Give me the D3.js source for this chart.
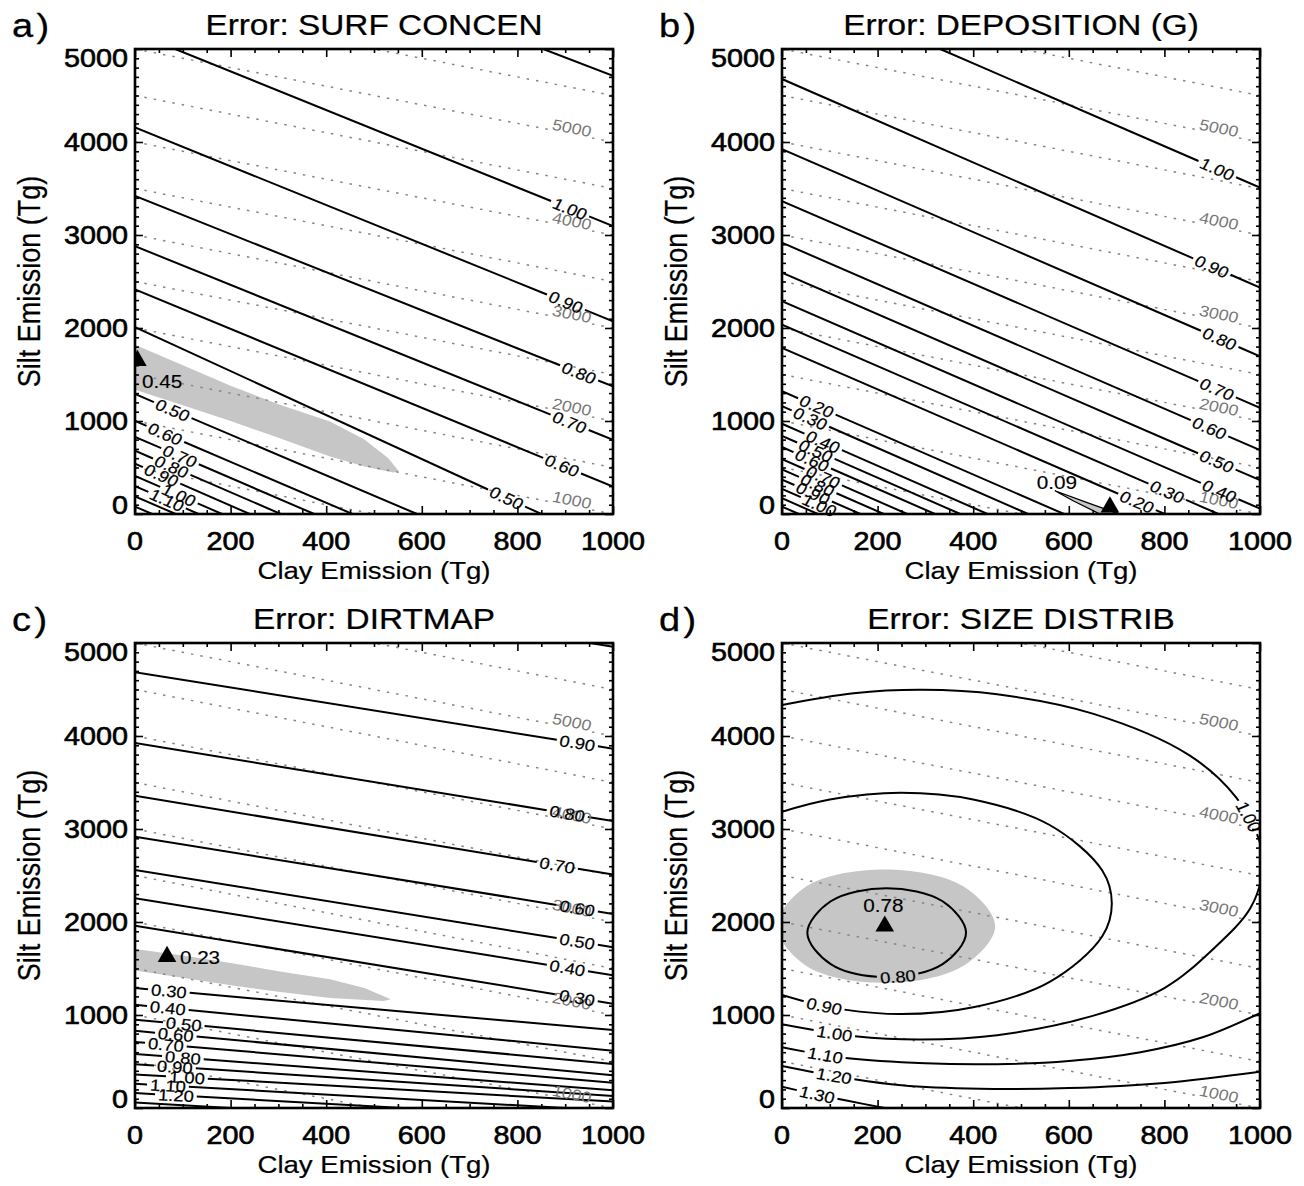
<!DOCTYPE html>
<html><head><meta charset="utf-8">
<script src="https://cdn.jsdelivr.net/npm/d3@7"></script>
<style>
body{margin:0;background:#fff}
svg{display:block}
text{font-family:"Liberation Sans",Arial,Helvetica,sans-serif}
</style>
</head><body>
<svg id="chart" width="1304" height="1186"></svg>
<script>
// ---------------- data ----------------
const clayTicks = [0, 200, 400, 600, 800, 1000];
const clayMinor = [50,100,150,250,300,350,450,500,550,650,700,750,850,900,950];
const siltTicks = [0, 1000, 2000, 3000, 4000, 5000];
const siltMinor = [100,200,300,400,500,600,700,800,900,1100,1200,1300,1400,1500,1600,1700,1800,1900,
  2100,2200,2300,2400,2500,2600,2700,2800,2900,3100,3200,3300,3400,3500,3600,3700,3800,3900,
  4100,4200,4300,4400,4500,4600,4700,4800,4900];
const totalLevels = [500,1000,1500,2000,2500,3000,3500,4000,4500,5000,5500,6000];
const totalLabelLevels = [1000,2000,3000,4000,5000];
const totalLabelClay = 914;
const titles = ["Error: SURF CONCEN", "Error: DEPOSITION (G)", "Error: DIRTMAP", "Error: SIZE DISTRIB"];
const letters = ["a)", "b)", "c)", "d)"];
const xTitle = "Clay Emission (Tg)";
const yTitle = "Silt Emission (Tg)";

// panel a : surface concentration
const contoursA = [
  {lev:"1.10", pts:[[854,5000],[1000,4712]]},
  {lev:"1.00", pts:[[84,5000],[1000,3096]], labs:[[910,3280]]},
  {lev:"0.90", pts:[[0,4156],[1000,2072]], labs:[[901,2280]]},
  {lev:"0.80", pts:[[0,3419],[1000,1372]], labs:[[927,1480]]},
  {lev:"0.70", pts:[[0,2880],[1000,797]], labs:[[910,985]]},
  {lev:"0.60", pts:[[0,2414],[1000,294]], labs:[[893,520]]},
  {lev:"0.50", pts:[[0,2010],[850,0]], labs:[[778,170]]},
  {lev:"0.50", pts:[[0,1290],[590,0]], labs:[[77,1100]]},
  {lev:"0.60", pts:[[0,1000],[455,0]], labs:[[63,855]]},
  {lev:"0.70", pts:[[0,830],[375,0]], labs:[[94,620]]},
  {lev:"0.80", pts:[[0,680],[305,0]], labs:[[77,510]]},
  {lev:"0.90", pts:[[0,540],[240,0]], labs:[[56,410]]},
  {lev:"1.00", pts:[[0,410],[182,0]], labs:[[94,230]]},
  {lev:"1.10", pts:[[0,300],[133,0]], labs:[[67,150]]},
  {lev:"1.20", pts:[[0,190],[85,0]]},
  {lev:"1.30", pts:[[0,80],[36,0]]}
];
const grayA = [[0,1821],[100,1600],[200,1380],[300,1180],[408,995],[480,800],[530,600],[552,460],
  [540,445],[480,510],[408,617],[300,820],[200,1000],[100,1170],[0,1336]];
const minA = {clay:5, silt:1650, text:"0.45", at:[57,1433]};

// panel b : deposition
const contoursB = [
  {lev:"1.00", pts:[[331,5000],[1000,3509]], labs:[[910,3700]]},
  {lev:"0.90", pts:[[0,4677],[1000,2435]], labs:[[900,2660]]},
  {lev:"0.80", pts:[[0,3922],[1000,1695]], labs:[[916,1880]]},
  {lev:"0.70", pts:[[0,3365],[1000,1142]], labs:[[910,1340]]},
  {lev:"0.60", pts:[[0,2917],[1000,687]], labs:[[893,920]]},
  {lev:"0.50", pts:[[0,2594],[1000,364]], labs:[[910,560]]},
  {lev:"0.40", pts:[[0,2288],[1000,58]], labs:[[916,250]]},
  {lev:"0.30", pts:[[0,2037],[913,0]], labs:[[806,240]]},
  {lev:"0.20", pts:[[0,1786],[801,0]], labs:[[743,130]]},
  {lev:"0.20", pts:[[0,1320],[590,0]], labs:[[73,1150]]},
  {lev:"0.30", pts:[[0,1160],[515,0]], labs:[[59,1020]]},
  {lev:"0.40", pts:[[0,970],[430,0]], labs:[[86,775]]},
  {lev:"0.50", pts:[[0,840],[373,0]], labs:[[71,680]]},
  {lev:"0.60", pts:[[0,720],[320,0]], labs:[[63,580]]},
  {lev:"0.70", pts:[[0,590],[262,0]], labs:[[86,400]]},
  {lev:"0.80", pts:[[0,480],[213,0]], labs:[[75,310]]},
  {lev:"0.90", pts:[[0,370],[164,0]], labs:[[65,220]]},
  {lev:"1.00", pts:[[0,270],[120,0]], labs:[[79,100]]},
  {lev:"1.10", pts:[[0,170],[75,0]]},
  {lev:"1.20", pts:[[0,80],[35,0]]}
];
const grayB = [[571,250],[640,120],[705,0],[665,0],[610,140]];
const minB = {clay:686, silt:75, text:"0.09", at:[575,345]};

// panel c : dirtmap
const contoursC = [
  {lev:"1.00", pts:[[952,5000],[1000,4960]]},
  {lev:"0.90", pts:[[0,4686],[1000,3863]], labs:[[925,3900]]},
  {lev:"0.80", pts:[[0,3924],[1000,3086]], labs:[[904,3160]]},
  {lev:"0.70", pts:[[0,3357],[1000,2511]], labs:[[883,2600]]},
  {lev:"0.60", pts:[[0,2916],[1000,2086]], labs:[[925,2150]]},
  {lev:"0.50", pts:[[0,2560],[1000,1729]], labs:[[925,1790]]},
  {lev:"0.40", pts:[[0,2256],[1000,1426]], labs:[[904,1500]]},
  {lev:"0.30", pts:[[0,1960],[1000,1122]], labs:[[925,1200]]},
  {lev:"0.30", pts:[[0,1290],[1000,838]], labs:[[70,1235]]},
  {lev:"0.40", pts:[[0,1110],[1000,616]], labs:[[68,1080]]},
  {lev:"0.50", pts:[[0,950],[1000,474]], labs:[[101,888]]},
  {lev:"0.60", pts:[[0,830],[1000,352]], labs:[[85,810]]},
  {lev:"0.70", pts:[[0,710],[1000,271]], labs:[[66,717]]},
  {lev:"0.80", pts:[[0,580],[1000,190]], labs:[[101,545]]},
  {lev:"0.90", pts:[[0,470],[1000,130]], labs:[[84,470]]},
  {lev:"1.00", pts:[[0,360],[1000,69]], labs:[[108,336]]},
  {lev:"1.10", pts:[[0,260],[900,0]], labs:[[70,300]]},
  {lev:"1.20", pts:[[0,160],[560,0]], labs:[[87,186]]},
  {lev:"1.30", pts:[[0,60],[200,0]]}
];
const grayC = [[0,1709],[100,1640],[200,1560],[300,1470],[408,1385],[480,1290],[535,1170],
  [520,1150],[408,1183],[300,1250],[200,1320],[100,1400],[0,1478]];
const minC = {clay:67, silt:1628, text:"0.23", at:[136,1628]};

// panel d : size distribution
const contoursD = [
  {lev:"0.80", closed:true, pts:[[53,1885],[102,2223],[219,2363],[336,2223],[385,1885],[336,1547],[219,1407],[102,1547]], labs:[[243,1400]]},
  {lev:"0.90", pts:[[0,3185],[100,3317],[248,3390],[400,3317],[560,3043],[670,2553],[690,2200],[670,1847],[560,1357],[400,1083],[248,1010],[100,1083],[0,1215]], labs:[[86,1060]]},
  {lev:"1.00", pts:[[0,4332],[150,4459],[291,4496],[450,4449],[650,4241],[850,3800],[950,3340],[1000,2850],[1005,2550],[980,2150],[900,1700],[800,1290],[650,991],[450,783],[291,736],[150,773],[0,900]], labs:[[965,3100],[109,790]]},
  {lev:"1.10", pts:[[0,654],[120,545],[300,480],[450,471],[600,505],[750,600],[880,760],[1000,1020]], labs:[[91,560]]},
  {lev:"1.20", pts:[[0,451],[109,345],[250,245],[414,207],[600,215],[800,270],[1000,390]], labs:[[109,345]]},
  {lev:"1.30", pts:[[0,228],[73,145],[140,75],[215,0],[260,-40]], labs:[[73,145]]}
];
const grayD = [[-10,1955],[52,2386],[215,2565],[378,2386],[446,1955],[378,1524],[215,1345],[52,1524]];
const minD = {clay:215, silt:1955, text:"0.78", at:[212,2187]};

// ---------------- layout / style ----------------
const W = 1304, H = 1186, PW = 478, PH = 465;
const SX = 1.15; // horizontal stretch of the original figure's lettering
const layout = [{left:135, top:49}, {left:782, top:49}, {left:135, top:643}, {left:782, top:643}];
const panels = [
  {contours:contoursA, gray:grayA, min:minA, smooth:false, grayStroke:false},
  {contours:contoursB, gray:grayB, min:minB, smooth:false, grayStroke:true},
  {contours:contoursC, gray:grayC, min:minC, smooth:false, grayStroke:false},
  {contours:contoursD, gray:grayD, min:minD, smooth:true, grayStroke:false}
];
const GRAY = "#c6c6c6";

const svg = d3.select("#chart");
const defs = svg.append("defs");

function stext(g, str, x, y, fs, anchor, extra, sw) {
  return g.append("text")
    .attr("transform", `translate(${x},${y}) scale(${SX},1)` + (extra || ""))
    .attr("text-anchor", anchor).attr("font-size", fs)
    .attr("fill", "#000").attr("stroke", "#000").attr("stroke-width", sw == null ? 0.4 : sw)
    .text(str);
}
function upright(a) { while (a > 90) a -= 180; while (a <= -90) a += 180; return a; }

panels.forEach((P, i) => {
  const {left, top} = layout[i];
  const x = d3.scaleLinear().domain([0, 1000]).range([left, left + PW]);
  const y = d3.scaleLinear().domain([0, 5000]).range([top + PH, top]);
  const lin = d3.line().x(d => x(d[0])).y(d => y(d[1]));
  const smooth = d3.line().x(d => x(d[0])).y(d => y(d[1])).curve(d3.curveCatmullRom.alpha(0.5));
  const smoothC = d3.line().x(d => x(d[0])).y(d => y(d[1])).curve(d3.curveCatmullRomClosed.alpha(0.5));

  defs.append("clipPath").attr("id", "cp" + i).append("rect")
    .attr("x", left).attr("y", top).attr("width", PW).attr("height", PH);
  const mask = defs.append("mask").attr("id", "md" + i).attr("maskUnits", "userSpaceOnUse")
    .attr("x", 0).attr("y", 0).attr("width", W).attr("height", H);
  mask.append("rect").attr("width", W).attr("height", H).attr("fill", "#fff");

  const plot = svg.append("g").attr("clip-path", `url(#cp${i})`);
  // grey "best" region
  plot.append("path")
    .attr("d", P.smooth ? smoothC(P.gray) : lin(P.gray) + "Z")
    .attr("fill", GRAY)
    .attr("stroke", P.grayStroke ? "#000" : "none").attr("stroke-width", 1.3);

  // dotted total-emission lines
  const dotG = plot.append("g").attr("mask", `url(#md${i})`);
  totalLevels.forEach(T => {
    dotG.append("path").attr("d", lin([[0, T], [T, 0]]))
      .attr("fill", "none").attr("stroke", "#858585").attr("stroke-width", 1.5)
      .attr("stroke-dasharray", "2.5,7");
  });
  const labG = svg.append("g");
  totalLabelLevels.forEach(T => {
    const px = x(totalLabelClay), py = y(T - totalLabelClay) - 6;
    const dx = x(1000) - x(0), dy = y(T - 1000) - y(T);
    const a0 = upright(Math.atan2(dy, dx / SX) * 180 / Math.PI);
    const tr = `translate(${px},${py}) scale(${SX},1) rotate(${a0})`;
    const t = labG.append("text").attr("transform", tr)
      .attr("text-anchor", "middle").attr("dy", "0.35em").attr("font-size", 15.5)
      .attr("fill", "#777").text(T);
    const w = t.node().getComputedTextLength();
    mask.append("rect").attr("transform", tr)
      .attr("x", -w / 2 - 2).attr("y", -8).attr("width", w + 4).attr("height", 16).attr("fill", "#000");
  });

  // solid contours
  const cg = plot.append("g");
  P.contours.forEach(c => {
    const gen = c.closed ? smoothC : (P.smooth ? smooth : lin);
    const path = cg.append("path").attr("d", gen(c.pts))
      .attr("fill", "none").attr("stroke", "#000").attr("stroke-width", 2);
    const node = path.node();
    const L = node.getTotalLength();
    const gaps = [];
    (c.labs || []).forEach(a => {
      const ax = x(a[0]), ay = y(a[1]);
      let best = 0, bd = Infinity;
      for (let s = 0; s <= L; s += 1) {
        const p = node.getPointAtLength(s);
        const d = (p.x - ax) ** 2 + (p.y - ay) ** 2;
        if (d < bd) { bd = d; best = s; }
      }
      const p = node.getPointAtLength(best);
      const p0 = node.getPointAtLength(Math.max(0, best - 5));
      const p1 = node.getPointAtLength(Math.min(L, best + 5));
      const a0 = upright(Math.atan2(p1.y - p0.y, (p1.x - p0.x) / SX) * 180 / Math.PI);
      const t = labG.append("text")
        .attr("transform", `translate(${p.x},${p.y}) scale(${SX},1) rotate(${a0})`)
        .attr("text-anchor", "middle").attr("dy", "0.36em").attr("font-size", 16)
        .attr("fill", "#000").attr("stroke", "#000").attr("stroke-width", 0.2).text(c.lev);
      const w = t.node().getComputedTextLength();
      const r = a0 * Math.PI / 180;
      const wl = w * Math.sqrt((SX * Math.cos(r)) ** 2 + Math.sin(r) ** 2) + 6;
      gaps.push([best - wl / 2, best + wl / 2]);
    });
    if (gaps.length) {
      gaps.sort((u, v) => u[0] - v[0]);
      const arr = [];
      let pos = 0;
      gaps.forEach(gp => { arr.push(Math.max(0, gp[0] - pos), gp[1] - gp[0]); pos = gp[1]; });
      arr.push(L + 20);
      path.attr("stroke-dasharray", arr.join(","));
    }
  });

  // minimum marker
  plot.append("path").attr("d", d3.symbol().type(d3.symbolTriangle).size(150)())
    .attr("transform", `translate(${x(P.min.clay)},${y(P.min.silt)})`).attr("fill", "#000");
  stext(svg, P.min.text, x(P.min.at[0]), y(P.min.at[1]) + 7, 18, "middle", "", 0.15);

  // axes: inward ticks on all four sides
  const ax = svg.append("g");
  const tick = (gen, tr) => ax.append("g").attr("transform", tr).call(gen)
    .call(g => g.select(".domain").remove()).call(g => g.selectAll("text").remove());
  tick(d3.axisBottom(x).tickValues(clayTicks).tickSize(-8), `translate(0,${top + PH})`);
  tick(d3.axisBottom(x).tickValues(clayMinor).tickSize(-4), `translate(0,${top + PH})`);
  tick(d3.axisTop(x).tickValues(clayTicks).tickSize(-8), `translate(0,${top})`);
  tick(d3.axisTop(x).tickValues(clayMinor).tickSize(-4), `translate(0,${top})`);
  tick(d3.axisLeft(y).tickValues(siltTicks).tickSize(-8), `translate(${left},0)`);
  tick(d3.axisLeft(y).tickValues(siltMinor).tickSize(-4), `translate(${left},0)`);
  tick(d3.axisRight(y).tickValues(siltTicks).tickSize(-8), `translate(${left + PW},0)`);
  tick(d3.axisRight(y).tickValues(siltMinor).tickSize(-4), `translate(${left + PW},0)`);
  ax.selectAll("line").attr("stroke", "#000").attr("stroke-width", 1.6);

  svg.append("rect").attr("x", left).attr("y", top).attr("width", PW).attr("height", PH)
    .attr("fill", "none").attr("stroke", "#000").attr("stroke-width", 2.6);

  // tick labels
  clayTicks.forEach(v => stext(svg, v, x(v), top + PH + 36, 25, "middle", "", 0.6));
  siltTicks.forEach((v, k) => {
    let yy = y(v) + 9;
    if (k === 0) yy = top + PH;
    if (k === siltTicks.length - 1) yy = top + 18;
    stext(svg, v, left - 7, yy, 25, "end", "", 0.6);
  });
  // titles
  stext(svg, titles[i], left + PW / 2, top - 14, 29, "middle", "", 0.25);
  stext(svg, letters[i], left - 123, top - 12, 33, "start", "", 0.3).attr("letter-spacing", 3);
  stext(svg, xTitle, left + PW / 2, top + PH + 65, 24, "middle", "", 0.2);
  stext(svg, yTitle, left - 95, top + PH / 2, 27, "middle", " rotate(-90)", 0.2);
});
</script>
</body></html>
